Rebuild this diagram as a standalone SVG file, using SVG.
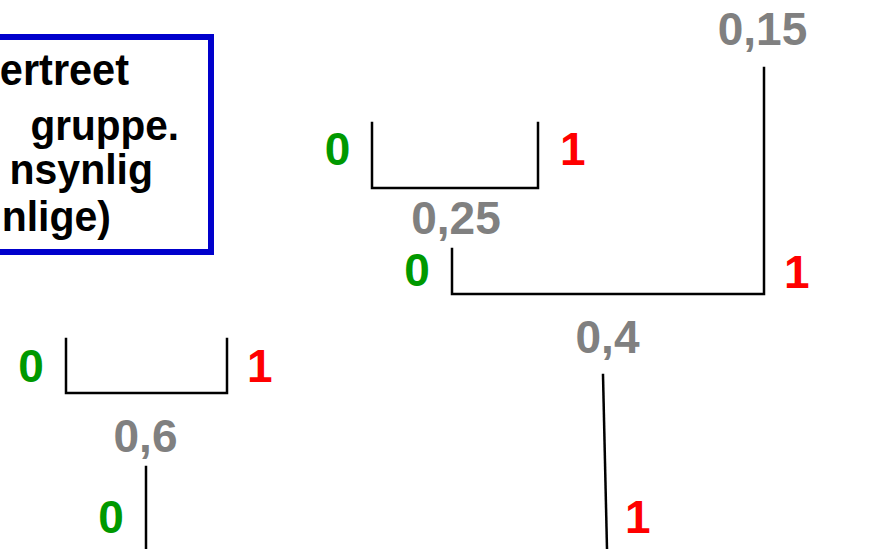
<svg xmlns="http://www.w3.org/2000/svg" width="886" height="549" viewBox="0 0 886 549">
  <style>
    .lbl { font-family: "Liberation Sans", Arial, sans-serif; font-weight: bold; }
    .num { font-size: 46px; }
    .zero { fill: #009900; text-anchor: middle; }
    .one { fill: #ff0000; }
    .prob { fill: #808080; text-anchor: middle; }
    .note { fill: #000000; text-anchor: end; }
    .edge { fill: none; stroke: #000000; stroke-width: 2.5; stroke-linecap: square; }
  </style>
  <rect width="886" height="549" fill="#ffffff"/>

  <!-- explanatory note box; lettering slightly tall -->
  <g id="note">
    <rect x="-20" y="37" width="231" height="215" fill="#ffffff" stroke="#0000cc" stroke-width="6"/>
    <g transform="scale(1,1.06)">
      <text class="lbl note" x="129" y="80.2" font-size="41.5">ertreet</text>
      <text class="lbl note" x="179" y="132.1" font-size="40.5">gruppe.</text>
      <text class="lbl note" x="153" y="173.6" font-size="41">nsynlig</text>
      <text class="lbl note" x="111" y="218" font-size="41">nlige)</text>
    </g>
  </g>

  <!-- tree edges -->
  <g id="connectors">
    <path class="edge" d="M372,123 V188 H538 V123"/>
    <path class="edge" d="M452,249 V294 H764 V68"/>
    <path class="edge" d="M66,339 V393 H227 V339"/>
    <path class="edge" d="M146,467 V549"/>
    <path class="edge" d="M603,375 L607,549"/>
  </g>

  <!-- probability nodes -->
  <g id="node-015"><text class="lbl num prob" x="762.5" y="45">0,15</text></g>
  <g id="node-025"><text class="lbl num prob" x="456" y="234" font-size="47">0,25</text></g>
  <g id="node-04"><text class="lbl num prob" x="607.5" y="353">0,4</text></g>
  <g id="node-06"><text class="lbl num prob" x="145.5" y="452">0,6</text></g>

  <!-- branch bits -->
  <g id="bits">
    <text class="lbl num zero" x="337.5" y="165">0</text>
    <text class="lbl num one" x="560" y="165">1</text>
    <text class="lbl num zero" x="417" y="286">0</text>
    <text class="lbl num one" x="784" y="288">1</text>
    <text class="lbl num zero" x="31" y="382">0</text>
    <text class="lbl num one" x="247" y="382">1</text>
    <text class="lbl num zero" x="111" y="533">0</text>
    <text class="lbl num one" x="625" y="533">1</text>
  </g>
</svg>
